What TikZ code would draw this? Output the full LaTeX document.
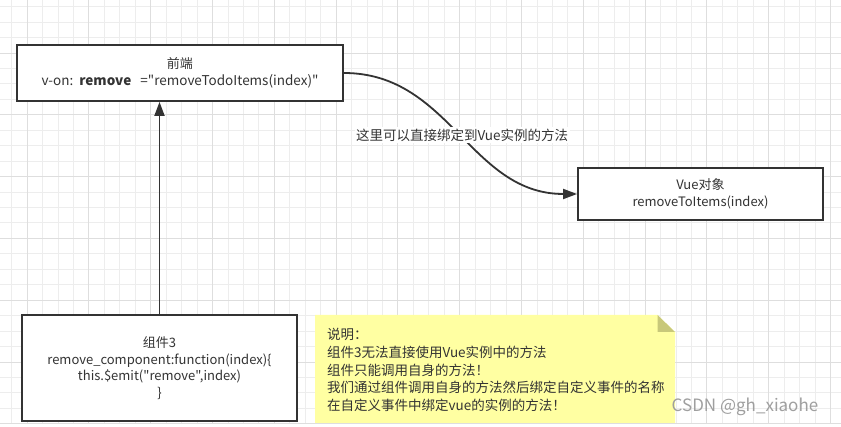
\documentclass[tikz,border=0pt]{standalone}
\usepackage{fontspec}
\setmainfont{Noto Sans CJK SC}[Ligatures=TeXOff]
\usetikzlibrary{arrows.meta}
\definecolor{ln}{HTML}{333333}
\definecolor{txt}{HTML}{333333}
\definecolor{gridminor}{HTML}{EDEDED}
\definecolor{gridmajor}{HTML}{DEDEDE}
\definecolor{notefill}{HTML}{FFFFA2}
\definecolor{notefold}{HTML}{C8C87A}
\newcommand\dq{\symbol{34}}
\tikzset{
  box/.style={draw=ln, line width=1.8pt, fill=white, align=center, text=txt,
    font=\fontsize{13}{16.5}\selectfont, inner sep=0pt},
  conn/.style={draw=ln, line width=1.8pt, -{Triangle[length=14pt,width=10pt]}},
  lbl/.style={fill=white, text=txt, font=\fontsize{13.5}{16}\selectfont, inner sep=1.5pt},
  notetext/.style={text=txt, align=left, font=\fontsize{13.5}{17.6}\selectfont, inner sep=0pt},
}
\begin{document}
\begin{tikzpicture}[x=1pt,y=-1pt]
\useasboundingbox (0,0) rectangle (841,427);
\fill[white] (0,0) rectangle (841,427);
% grid
\foreach \i in {0,...,53} \draw[gridminor, line width=1pt] ({11.7+15.45*\i},0) -- ({11.7+15.45*\i},424);
\foreach \i in {0,...,27} \draw[gridminor, line width=1pt] (0,{6.7+15.45*\i}) -- (841,{6.7+15.45*\i});
\foreach \i in {1,5,...,53} \draw[gridmajor, line width=1pt] ({11.7+15.45*\i},0) -- ({11.7+15.45*\i},424);
\foreach \i in {3,7,...,27} \draw[gridmajor, line width=1pt] (0,{6.7+15.45*\i}) -- (841,{6.7+15.45*\i});

% boxes
\node[box, minimum width=326pt, minimum height=56pt] (b1) at (180,73)
  {前端\\{\fontsize{13.5}{16.5}\selectfont v-on:\ \ \textbf{remove}\ \ \ =\dq removeTodoItems(index)\dq}};
\node[box, minimum width=245pt, minimum height=52pt] (b2) at (700.5,194)
  {Vue对象\\removeToItems(index)};
\node[box, minimum width=275pt, minimum height=106pt] (b3) at (159.5,368)
  {组件3\\remove\_component:function(index)\{\\this.\$emit(\dq remove\dq,index)\\\}};

% note
\fill[notefill] (315,315) -- (657.5,315) -- (675,332) -- (675,423) -- (315,423) -- cycle;
\fill[notefold] (657.5,315) -- (675,332) -- (657.5,332) -- cycle;
\node[notetext, anchor=west] (note) at (327,370)
  {说明：\\组件3无法直接使用Vue实例中的方法\\组件只能调用自身的方法！\\我们通过组件调用自身的方法然后绑定自定义事件的名称\\在自定义事件中绑定vue的实例的方法！};

% connectors
\draw[conn] (b3.north) -- (b3.north |- b1.south);
\draw[conn] (b1.east) .. controls (450,73) and (470,194) .. (b2.west)
  node[lbl, pos=0.5, xshift=2pt, yshift=-1.5pt] (l1) {这里可以直接绑定到Vue实例的方法};

% watermark
\node[text=gray!75, font=\fontsize{17}{17}\selectfont, inner sep=0pt] (wm) at (745,407) {CSDN @gh\_xiaohe};
\end{tikzpicture}
\end{document}
